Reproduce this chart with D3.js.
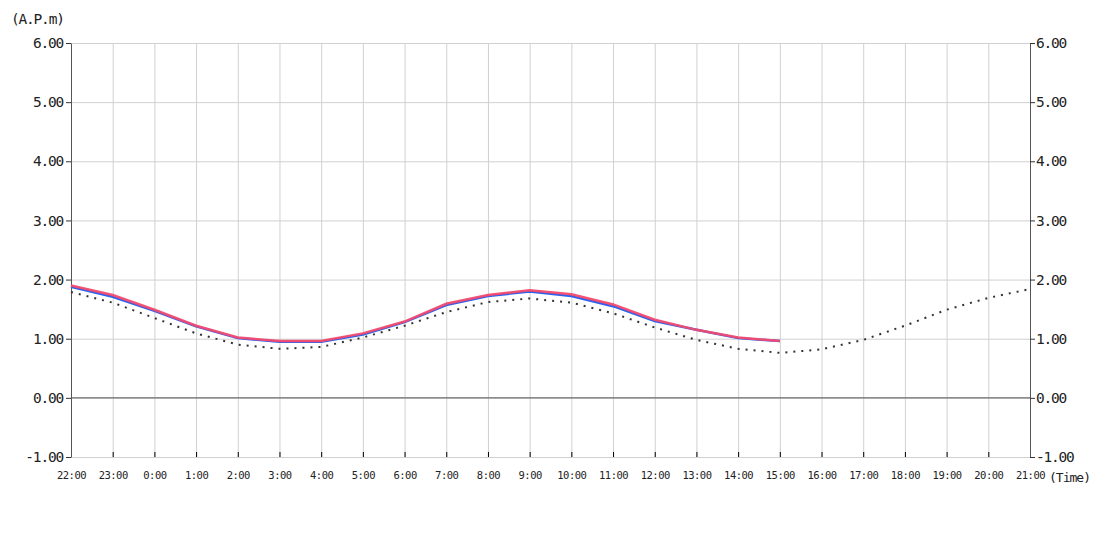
<!DOCTYPE html>
<html>
<head>
<meta charset="utf-8">
<script src="https://cdn.jsdelivr.net/npm/d3@7"></script>
<style>
  body { margin: 0; background: #fff; }
  text { font-family: "DejaVu Sans Mono", monospace; fill: #222; }
  .grade line { stroke: #d0d0d0; }
  .grade path { display: none; }
</style>
</head>
<body>
<svg id="grafico"></svg>
<script>
// horas do eixo X
const horas = ['22:00','23:00','0:00','1:00','2:00','3:00','4:00','5:00','6:00','7:00','8:00',
  '9:00','10:00','11:00','12:00','13:00','14:00','15:00','16:00','17:00','18:00','19:00','20:00','21:00']

// series (ate 15:00)
const serieAzul = [1.88, 1.71, 1.47, 1.21, 1.01, 0.95, 0.95, 1.07, 1.28, 1.57, 1.72, 1.80, 1.72, 1.55, 1.30, 1.15, 1.01, 0.96]
const serieVermelha = [1.90, 1.74, 1.49, 1.22, 1.02, 0.96, 0.96, 1.09, 1.29, 1.59, 1.74, 1.82, 1.75, 1.58, 1.32, 1.15, 1.02, 0.96]
// serie pontilhada (dia inteiro)
const seriePontos = [1.79, 1.61, 1.35, 1.09, 0.90, 0.83, 0.86, 1.02, 1.22, 1.45, 1.62, 1.68, 1.61, 1.43, 1.19, 0.98, 0.83, 0.76,
  0.82, 0.98, 1.22, 1.49, 1.69, 1.84]

const ticksY = [-1, 0, 1, 2, 3, 4, 5, 6]

const largura = 1100, altura = 550
const margens = {esquerda: 71, direita: 70, superior: 43, inferior: 93}
const larguraPlot = largura - margens.esquerda - margens.direita
const alturaPlot = altura - margens.superior - margens.inferior

const svg = d3.select('#grafico').attr('width', largura).attr('height', altura)
const plot = svg.append('g').attr('transform', `translate(${margens.esquerda},${margens.superior})`)

const fnX = d3.scalePoint().domain(horas).range([0, larguraPlot])
const fnY = d3.scaleLinear().domain([-1, 6]).range([alturaPlot, 0])

// grade
plot.append('g').attr('class', 'grade')
  .call(d3.axisRight(fnY).tickValues(ticksY).tickSize(larguraPlot).tickFormat(''))
plot.append('g').attr('class', 'grade')
  .call(d3.axisBottom(fnX).tickSize(alturaPlot).tickFormat(''))

// linha do zero
plot.append('line')
  .attr('x1', 0).attr('x2', larguraPlot)
  .attr('y1', fnY(0)).attr('y2', fnY(0))
  .attr('stroke', '#555')

// marcas pequenas embaixo
plot.append('g').attr('transform', `translate(0,${alturaPlot})`)
  .call(d3.axisTop(fnX).tickSize(5).tickFormat(''))
  .call(g => g.select('.domain').remove())
  .call(g => g.selectAll('line').attr('stroke', '#000'))

// rotulos do eixo X
plot.append('g').attr('transform', `translate(0,${alturaPlot})`)
  .call(d3.axisBottom(fnX).tickSize(0).tickPadding(15))
  .call(g => g.select('.domain').remove())
  .call(g => g.selectAll('text').attr('font-size', 10.5).attr('fill', '#000')
    .style('font-family', '"DejaVu Sans Mono", monospace').attr('letter-spacing', -0.5))

// eixos Y
const fmt = d => d.toFixed(2)
const estiloY = g => {
  g.select('.domain').attr('stroke', '#555')
  g.selectAll('.tick line').attr('stroke', '#333')
  g.selectAll('text').attr('font-size', 14.5).attr('fill', '#222').attr('letter-spacing', -1.2)
    .style('font-family', '"DejaVu Sans Mono", monospace')
}
plot.append('g')
  .call(d3.axisLeft(fnY).tickValues(ticksY).tickFormat(fmt).tickSize(5).tickSizeOuter(0).tickPadding(3))
  .call(estiloY)
plot.append('g').attr('transform', `translate(${larguraPlot},0)`)
  .call(d3.axisRight(fnY).tickValues(ticksY).tickFormat(fmt).tickSize(5).tickSizeOuter(0).tickPadding(1))
  .call(estiloY)

// linhas
const linha = d3.line().x((d, i) => fnX(horas[i])).y(d => fnY(d))

plot.append('path').datum(seriePontos)
  .attr('d', linha).attr('fill', 'none')
  .attr('stroke', '#333').attr('stroke-width', 2).attr('stroke-dasharray', '2,6')

plot.append('path').datum(serieAzul)
  .attr('d', linha).attr('fill', 'none')
  .attr('stroke', '#2a62f0').attr('stroke-width', 2.5)

plot.append('path').datum(serieVermelha)
  .attr('d', linha).attr('fill', 'none')
  .attr('stroke', '#f24a6e').attr('stroke-width', 2.5).attr('stroke-opacity', 0.95)

// titulos
svg.append('text').attr('x', 11).attr('y', 24)
  .attr('font-size', 14.5).attr('letter-spacing', -1.2).text('(A.P.m)')
svg.append('text').attr('x', 1049).attr('y', 482)
  .attr('font-size', 13).attr('letter-spacing', -1).text('(Time)')
</script>
</body>
</html>
